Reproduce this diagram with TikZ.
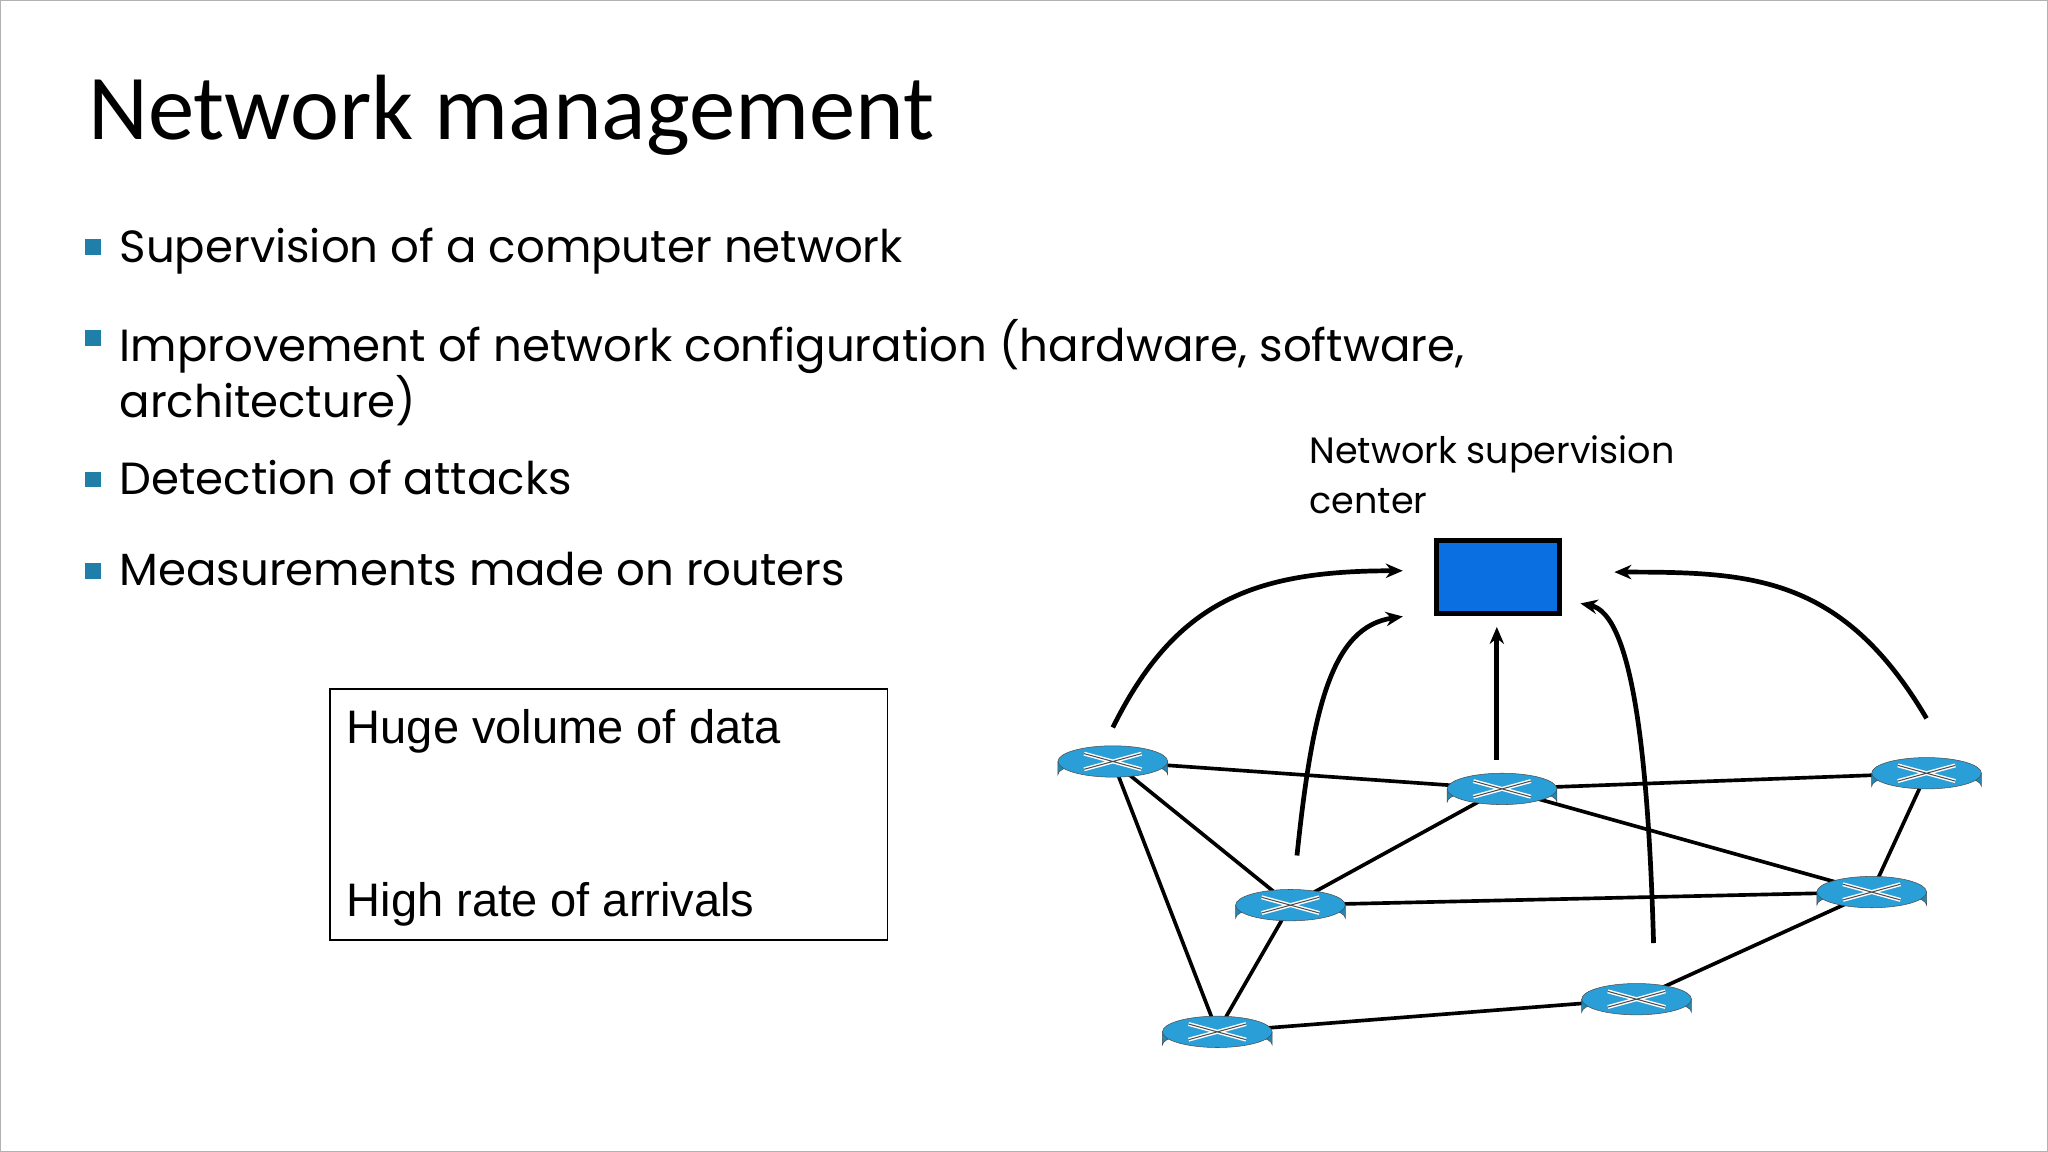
\documentclass[tikz,border=0pt]{standalone}
\usepackage{fontspec}
\setmainfont{Carlito}
\newfontfamily\gothic{Poppins}
\newfontfamily\arialf{Liberation Sans}
\usetikzlibrary{arrows.meta}
\definecolor{rblue}{HTML}{2A9ED6}
\definecolor{cblue}{HTML}{0A6FE0}
\definecolor{bul}{HTML}{1F7FA8}
\begin{document}
\begin{tikzpicture}[x=1pt,y=-1pt,
  link/.style={line width=2.8pt},
  arr/.style={line width=3.6pt,-{Stealth[length=13pt,width=11pt]}},
  bt/.style={anchor=west,font=\gothic\fontsize{34.5}{39}\selectfont,align=left},
  bm/.style={fill=bul,minimum size=12pt,inner sep=0pt}]
\useasboundingbox (0,0) rectangle (1568,882);
\draw[gray!60] (0.5,0.5) rectangle (1567.5,881.5);
\node[anchor=west,font=\fontsize{71}{80}\selectfont] (title) at (64,88) {Network management};
\foreach \y/\t/\n in {189/{Supervision of a computer network}/b1,259/{Improvement of network configuration (hardware, software,\\architecture)}/b2,367/{Detection of attacks}/b3,437/{Measurements made on routers}/b4}{
  \node[bm] (m\n) at (71,\y) {};
  \node[bt,anchor=north west] (\n) at (88,\y-18) {\t};
}
\node[draw,line width=1.2pt,minimum width=427,minimum height=192,anchor=north west] (box) at (252,527) {};
\node[anchor=west,font=\arialf\fontsize{36}{40}\selectfont] (h1) at (262,560) {Huge volume of data};
\node[anchor=west,font=\arialf\fontsize{36}{40}\selectfont] (h2) at (262,692) {High rate of arrivals};
\node[anchor=north west,align=left,font=\gothic\fontsize{28}{38}\selectfont] (nsc) at (999,330) {Network supervision\\center};
\node[draw,line width=4pt,fill=cblue,minimum width=94,minimum height=56] (c) at (1147,442) {};
\tikzset{router/.pic={
  \fill[rblue!85!black] (-42,0) -- (-42,10) arc[start angle=180,end angle=360,x radius=42,y radius=10] -- (42,0) -- cycle;
  \draw[black!70] (-42,0) -- (-42,10) arc[start angle=180,end angle=360,x radius=42,y radius=10] -- (42,0);
  \fill[rblue,draw=black!70] (0,0) ellipse[x radius=42,y radius=12];
  \draw[white,line width=3pt] (-22,-6) -- (22,6) (-22,6) -- (22,-6);
  \draw[black!70,line width=0.8pt] (-22,-6) -- (22,6) (-22,6) -- (22,-6);
}}
\coordinate (r1) at (852,583);
\coordinate (r2) at (1150,604);
\coordinate (r3) at (1475,592);
\coordinate (r4) at (988,693);
\coordinate (r5) at (1433,683);
\coordinate (r6) at (932,790);
\coordinate (r7) at (1253,765);
\foreach \a/\b in {r1/r2,r1/r4,r1/r6,r2/r3,r2/r4,r2/r5,r3/r5,r4/r5,r4/r6,r6/r7,r7/r5}
  \draw[link] (\a) -- (\b);
\foreach \r in {r1,r2,r3,r4,r5,r6,r7} \pic at (\r) {router};
\coordinate (s1) at (852,557);
\coordinate (s2) at (993,655);
\coordinate (s3) at (1146,582);
\coordinate (s4) at (1266,722);
\coordinate (s5) at (1475,550);
\coordinate (e1) at (1074,437);
\coordinate (e2) at (1074,472);
\coordinate (e4) at (1210,462);
\coordinate (e5) at (1236,438);
\draw[arr] (s1) .. controls (900,460) and (960,437) .. (e1);
\draw[arr] (s2) .. controls (1005,540) and (1020,480) .. (e2);
\draw[arr] (s3) -- ([yshift=-8pt]c.south -| s3);
\draw[arr] (s4) .. controls (1262,580) and (1250,470) .. (e4);
\draw[arr] (s5) .. controls (1410,440) and (1340,438) .. (e5);
\end{tikzpicture}
\end{document}
